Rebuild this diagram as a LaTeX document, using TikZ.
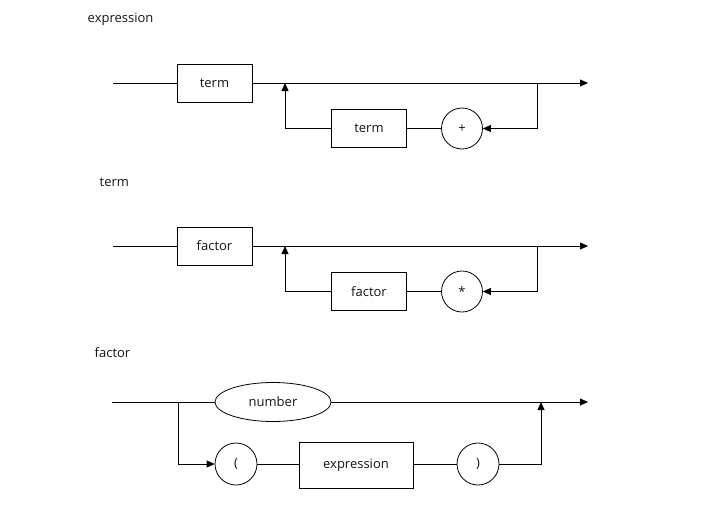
\documentclass[tikz,border=0pt]{standalone}
\usepackage{fontspec}
\setmainfont{Open Sans}
\usetikzlibrary{arrows.meta,shapes.geometric}
\definecolor{darktext}{RGB}{20,20,20}

\tikzset{
  rulebox/.style={draw, minimum width=75pt, minimum height=38pt, inner sep=0pt},
  tokencirc/.style={draw, circle, minimum size=41pt, inner sep=0pt},
  tokenoval/.style={draw, ellipse, minimum width=116pt, minimum height=39pt, inner sep=0pt},
  rulename/.style={anchor=west, text=darktext},
  flowarrow/.style={-{Triangle[length=8pt,width=7pt]}}
}

\begin{document}
\begin{tikzpicture}[x=1pt, y=-1pt, line width=0.8pt, font=\fontsize{13}{15}\selectfont, text=darktext]
\useasboundingbox (0,0) rectangle (706,522);

% expression
\node[rulename] (exprlabel) at (84,19) {expression};
\coordinate (exprin) at (113,83);
\coordinate (exprout) at (588,83);
\coordinate (exprjoin) at (285,83);
\coordinate (exprsplit) at (537,83);
\node[rulebox] (exprterm) at (214.5,83) {term};
\node[rulebox] (exprloop) at (369,128.5) {term};
\node[tokencirc] (plus) at (462,128.5) {+};
\draw (exprin) -- (exprterm);
\draw[flowarrow] (exprterm) -- (exprout);
\draw[flowarrow] (exprsplit) |- (plus);
\draw (plus) -- (exprloop);
\draw[flowarrow] (exprloop) -| (exprjoin);

% term
\node[rulename] (termlabel) at (96,182) {term};
\coordinate (termin) at (113,246);
\coordinate (termout) at (588,246);
\coordinate (termjoin) at (285,246);
\coordinate (termsplit) at (537,246);
\node[rulebox] (termfactor) at (214.5,246) {factor};
\node[rulebox] (termloop) at (369,291.5) {factor};
\node[tokencirc] (times) at (462,291.5) {*};
\draw (termin) -- (termfactor);
\draw[flowarrow] (termfactor) -- (termout);
\draw[flowarrow] (termsplit) |- (times);
\draw (times) -- (termloop);
\draw[flowarrow] (termloop) -| (termjoin);

% factor
\node[rulename] (factlabel) at (91,353) {factor};
\coordinate (factin) at (112,402);
\coordinate (factout) at (588,402);
\coordinate (factbranch) at (178,402);
\coordinate (factjoin) at (541,402);
\node[tokenoval] (number) at (273,402) {number};
\node[tokencirc, minimum size=42pt] (lparen) at (236,464) {(};
\node[rulebox, minimum width=114pt, minimum height=46pt] (exprbox) at (356,465) {expression};
\node[tokencirc, minimum size=42pt] (rparen) at (478,464) {)};
\draw (factin) -- (number);
\draw[flowarrow] (number) -- (factout);
\draw[flowarrow] (factbranch) |- (lparen);
\draw (lparen) -- (exprbox.west |- lparen);
\draw (exprbox.east |- rparen) -- (rparen);
\draw[flowarrow] (rparen) -| (factjoin);
\end{tikzpicture}
\end{document}
